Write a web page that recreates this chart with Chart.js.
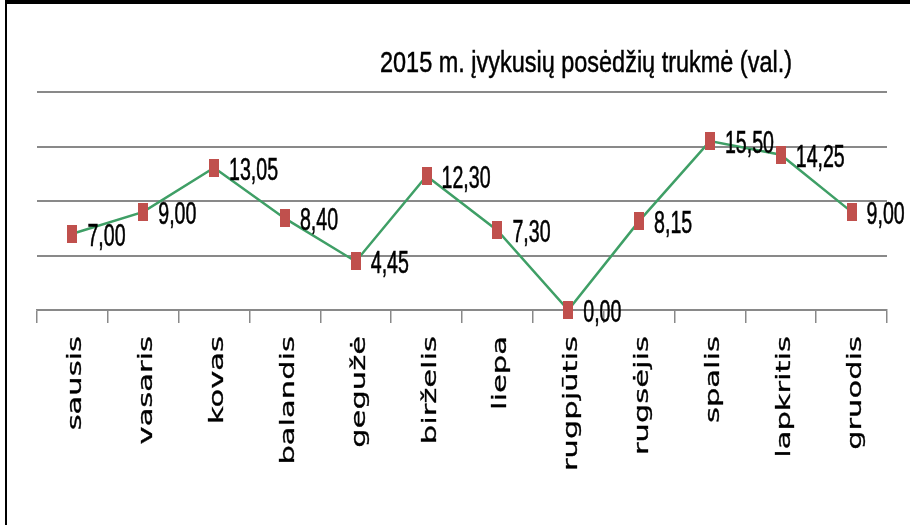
<!DOCTYPE html>
<html>
<head>
<meta charset="utf-8">
<script src="https://cdn.jsdelivr.net/npm/chart.js@4"></script>
<style>
  html, body { margin: 0; padding: 0; background: #fff; }
  .wrap { position: relative; width: 910px; height: 525px; overflow: hidden; }
  .frame {
    position: absolute; left: 5px; top: 0; right: 0; bottom: 0;
    border-top: 4px solid #000; border-left: 2px solid #000;
    pointer-events: none;
  }
</style>
</head>
<body>
<div class="wrap">
  <canvas id="chart" width="910" height="525"></canvas>
  <div class="frame"></div>
</div>
<script>
const months = ['sausis', 'vasaris', 'kovas', 'balandis', 'gegužė', 'birželis',
  'liepa', 'rugpjūtis', 'rugsėjis', 'spalis', 'lapkritis', 'gruodis'];
const hours = [7.00, 9.00, 13.05, 8.40, 4.45, 12.30, 7.30, 0.00, 8.15, 15.50, 14.25, 9.00];
const yTicks = [0, 5, 10, 15, 20];
const chartTitle = '2015 m. įvykusių posėdžių trukmė (val.)';

const narrow = "'Liberation Sans Narrow', 'Liberation Sans', sans-serif";
const gridGray = '#898989';

const fmt = v => v.toFixed(2).replace('.', ',');

// tall red marker like the excel one
const marker = document.createElement('canvas');
marker.width = 10;
marker.height = 18;
const mctx = marker.getContext('2d');
mctx.fillStyle = '#c0504d';
mctx.fillRect(0, 0, 10, 18);

// squeezed, slightly heavy text (excel picture was stretched)
function heavyText(ctx, txt, x, y) {
  ctx.fillText(txt, x, y);
  ctx.strokeText(txt, x, y);
}

const textPlugin = {
  id: 'excelText',
  afterDatasetsDraw(chart) {
    const ctx = chart.ctx;
    const meta = chart.getDatasetMeta(0);
    ctx.save();
    ctx.font = '32px ' + narrow;
    ctx.fillStyle = '#000';
    ctx.strokeStyle = '#000';
    ctx.lineWidth = 0.6;
    ctx.textBaseline = 'alphabetic';
    ctx.textAlign = 'left';
    const sx = 49 / ctx.measureText('13,05').width;
    meta.data.forEach((pt, i) => {
      ctx.save();
      ctx.translate(pt.x + 15, pt.y + 12);
      ctx.scale(sx, 1);
      heavyText(ctx, fmt(hours[i]), 0, 0);
      ctx.restore();
    });
    ctx.restore();
  },
  afterDraw(chart) {
    const ctx = chart.ctx;
    const xs = chart.scales.x;

    // title
    ctx.save();
    ctx.font = '30px ' + narrow;
    ctx.fillStyle = '#000';
    ctx.strokeStyle = '#000';
    ctx.lineWidth = 0.5;
    ctx.textBaseline = 'alphabetic';
    ctx.textAlign = 'left';
    const tsx = 412 / ctx.measureText(chartTitle).width;
    ctx.translate(380, 72);
    ctx.scale(tsx, 1);
    heavyText(ctx, chartTitle, 0, 0);
    ctx.restore();

    // rotated month labels, stretched like the original
    ctx.save();
    ctx.font = '20px "DejaVu Sans", sans-serif';
    ctx.fillStyle = '#000';
    ctx.strokeStyle = '#000';
    ctx.lineWidth = 0.3;
    ctx.textBaseline = 'alphabetic';
    ctx.textAlign = 'right';
    const sy = 135 / ctx.measureText('rugpjūtis').width;
    months.forEach((m, i) => {
      ctx.save();
      ctx.translate(xs.getPixelForValue(i), 336);
      ctx.scale(1, sy);
      ctx.rotate(-Math.PI / 2);
      heavyText(ctx, m, 0, 9);
      ctx.restore();
    });
    ctx.restore();
  }
};

new Chart(document.getElementById('chart'), {
  type: 'line',
  data: {
    labels: months,
    datasets: [{
      data: hours,
      borderColor: '#3f9f66',
      borderWidth: 2.5,
      tension: 0,
      fill: false,
      clip: false,
      pointStyle: marker,
      pointRadius: 6
    }]
  },
  options: {
    responsive: false,
    animation: false,
    events: [],
    layout: { padding: { top: 92, left: 37, right: 23, bottom: 202 } },
    plugins: {
      legend: { display: false },
      title: { display: false },
      tooltip: { enabled: false }
    },
    scales: {
      x: {
        offset: true,
        grid: { offset: true, drawOnChartArea: false, drawTicks: true, tickLength: 13, color: gridGray, lineWidth: 1.5 },
        border: { display: true, color: gridGray, width: 1.5 },
        ticks: { display: false }
      },
      y: {
        min: 0,
        max: 20,
        afterBuildTicks: s => { s.ticks = yTicks.map(v => ({ value: v })); },
        ticks: { display: false },
        grid: { color: gridGray, lineWidth: 2, drawTicks: false },
        border: { display: false }
      }
    }
  },
  plugins: [textPlugin]
});
</script>
</body>
</html>
